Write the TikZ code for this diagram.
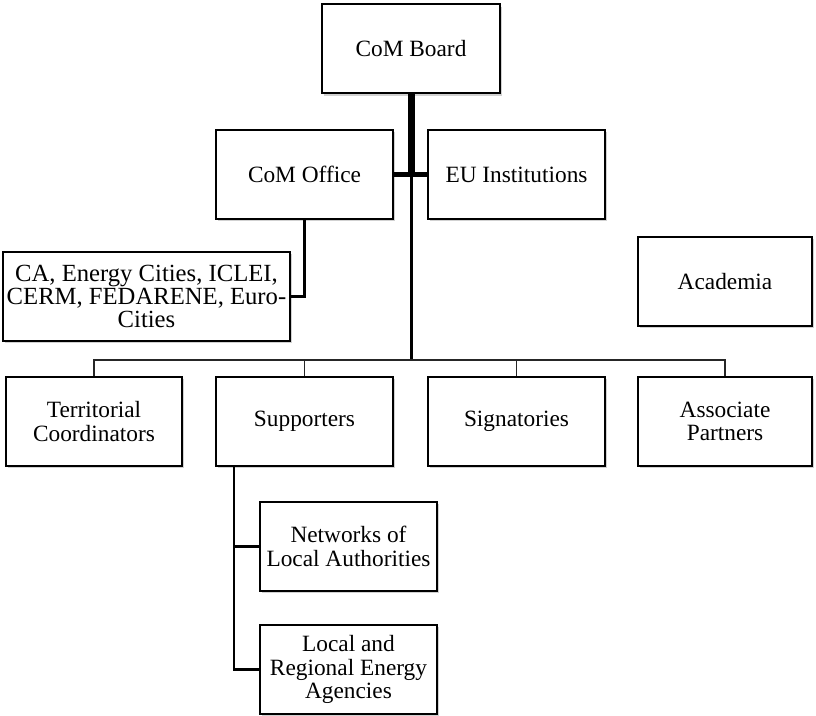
\documentclass[tikz,border=0pt]{standalone}
\usepackage{fontspec}
\setmainfont{Liberation Serif}
\usetikzlibrary{shadows,calc}
\tikzset{
  orgbox/.style={draw=black, line width=1.5pt, fill=white, rectangle,
    minimum width=#1*0.75pt, minimum height=66.75pt, inner sep=2pt,
    align=center, font=\fontsize{17.5}{17.5}\selectfont,
    drop shadow={shadow xshift=1.6pt, shadow yshift=-1.6pt, opacity=0.3, fill=black!60}},
  orgbox/.default=177,
  bigtext/.style={font=\fontsize{18.5}{17.3}\selectfont, inner xsep=0pt},
  trunk/.style={line width=5.25pt},
  crossbar/.style={line width=3.75pt},
  stem/.style={line width=2.25pt},
  branch/.style={line width=1.9pt},
  bus/.style={line width=1.3pt, draw=black!85}
}
\begin{document}
\begin{tikzpicture}[x=0.75pt, y=-0.75pt]
  \useasboundingbox (0,0) rectangle (816,716);

  % Boxes
  \node[orgbox=178] (board)  at (411,49)      {CoM Board};
  \node[orgbox]     (office) at (304.5,174.5) {CoM Office};
  \node[orgbox]     (eu)     at (516.5,174.5) {EU Institutions};
  \node[orgbox=287, bigtext] (ca) at (146.5,296.5) {CA, Energy Cities, ICLEI,\\CERM, FEDARENE, Euro-\\Cities};
  \node[orgbox=174] (acad)   at (725,281.5)   {Academia};
  \node[orgbox=176] (terr)   at (94,421.5)    {Territorial\\Coordinators};
  \node[orgbox]     (supp)   at (304.5,421.5) {Supporters};
  \node[orgbox]     (sig)    at (516.5,421.5) {Signatories};
  \node[orgbox=174] (assoc)  at (725,421.5)   {Associate\\Partners};
  \node[orgbox]     (net)    at (348.5,546.5) {Networks of\\Local Authorities};
  \node[orgbox]     (loc)    at (348.5,669.5) {Local and\\Regional Energy\\Agencies};

  % Junction points
  \coordinate (hub) at (board.south |- office.east);
  \coordinate (bus) at (board.south |- 0,360);
  \coordinate (sx)  at ($(supp.south west)+(19,0)$);

  % Main trunk and the office / EU crossbar
  \draw[trunk] (board.south) -- ($(hub)+(0,3)$);
  \draw[crossbar] (office.east) -- (eu.west);
  \draw[stem] (hub) -- (bus);

  % Distribution bus to the bottom row
  \draw[bus] (terr.north) -- (terr.north |- bus) -- (assoc.north |- bus) -- (assoc.north);
  \draw[bus] (supp.north) -- (supp.north |- bus);
  \draw[bus] (sig.north) -- (sig.north |- bus);

  % Office to partner networks
  \draw[branch] (office.south) |- (ca.east);

  % Supporters sub-tree
  \draw[branch] (sx) |- (loc.west);
  \draw[branch] (sx |- net.west) -- (net.west);
\end{tikzpicture}
\end{document}
